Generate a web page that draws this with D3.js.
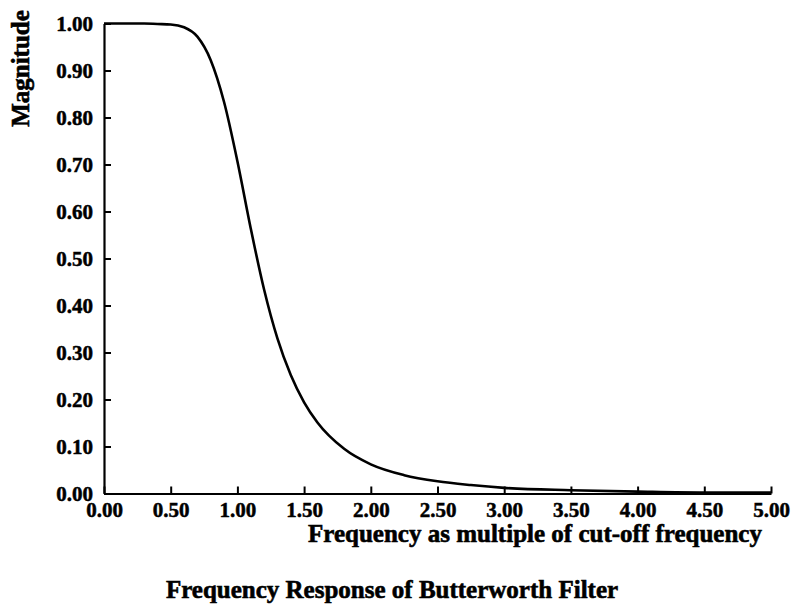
<!DOCTYPE html>
<html>
<head>
<meta charset="utf-8">
<script src="https://cdn.jsdelivr.net/npm/d3@7"></script>
<style>
  html, body { margin: 0; padding: 0; background: #fff; }
  svg { display: block; }
  text { font-family: "Liberation Serif", "Times New Roman", serif; font-weight: bold; fill: #000; }
</style>
</head>
<body>
<svg id="chart" width="795" height="610"></svg>
<script>
// Frequency (multiples of the cut-off frequency) and the filter's magnitude response
const frequency = [0.00, 0.10, 0.20, 0.30, 0.40, 0.50, 0.60, 0.70, 0.80, 0.90, 1.00,
                   1.10, 1.20, 1.30, 1.40, 1.50, 1.60, 1.80, 2.00, 2.25, 2.50, 2.75,
                   3.00, 3.50, 4.00, 4.50, 5.00];
const magnitude = [1.000, 1.000, 1.000, 1.000, 0.999, 0.998, 0.992, 0.972, 0.922, 0.833, 0.707,
                   0.564, 0.434, 0.330, 0.252, 0.194, 0.151, 0.095, 0.062, 0.039, 0.026, 0.018,
                   0.012, 0.007, 0.004, 0.002, 0.002];

const xTicks = [0, 0.5, 1, 1.5, 2, 2.5, 3, 3.5, 4, 4.5, 5];
const yTicks = [0, 0.1, 0.2, 0.3, 0.4, 0.5, 0.6, 0.7, 0.8, 0.9, 1.0];

const xTitle = "Frequency as multiple of cut-off frequency";
const yTitle = "Magnitude";
const chartTitle = "Frequency Response of Butterworth Filter";

const svg = d3.select("#chart");
const plotLeft = 104, plotRight = 771, plotTop = 23.5, plotBottom = 493.5;

const x = d3.scaleLinear().domain([0, 5]).range([plotLeft, plotRight]);
const y = d3.scaleLinear().domain([0, 1]).range([plotBottom, plotTop]);

const fmt = d3.format(".2f");

// Axes with short inward ticks
const gx = svg.append("g")
  .attr("transform", `translate(0,${plotBottom})`)
  .call(d3.axisBottom(x).tickValues(xTicks).tickFormat(fmt)
        .tickSizeInner(-7).tickSizeOuter(0).tickPadding(9));

const gy = svg.append("g")
  .attr("transform", `translate(${plotLeft},0)`)
  .call(d3.axisLeft(y).tickValues(yTicks).tickFormat(fmt)
        .tickSizeInner(-7).tickSizeOuter(0).tickPadding(11));

[gx, gy].forEach(g => {
  g.select(".domain").attr("stroke", "#000").attr("stroke-width", 2.2);
  g.selectAll(".tick line").attr("stroke", "#000").attr("stroke-width", 2);
  g.selectAll(".tick text")
    .attr("font-family", "'Liberation Serif', 'Times New Roman', serif")
    .attr("font-weight", "bold")
    .attr("font-size", 21)
    .attr("fill", "#000")
    .attr("stroke", "#000")
    .attr("stroke-width", 0.5);
});

// Response curve
const line = d3.line()
  .x((d, i) => x(frequency[i]))
  .y(d => y(d))
  .curve(d3.curveMonotoneX);

svg.append("path")
  .datum(magnitude)
  .attr("fill", "none")
  .attr("stroke", "#000")
  .attr("stroke-width", 2.6)
  .attr("stroke-linejoin", "round")
  .attr("d", line);

// Titles
const titleStyle = sel => sel
  .attr("text-anchor", "middle")
  .attr("font-size", 25)
  .attr("stroke", "#000")
  .attr("stroke-width", 0.6);

svg.append("text")
  .attr("x", 535).attr("y", 542)
  .call(titleStyle)
  .text(xTitle);

svg.append("text")
  .attr("transform", "translate(29,68.5) rotate(-90)")
  .call(titleStyle)
  .text(yTitle);

svg.append("text")
  .attr("x", 392).attr("y", 598)
  .call(titleStyle)
  .text(chartTitle);
</script>
</body>
</html>
